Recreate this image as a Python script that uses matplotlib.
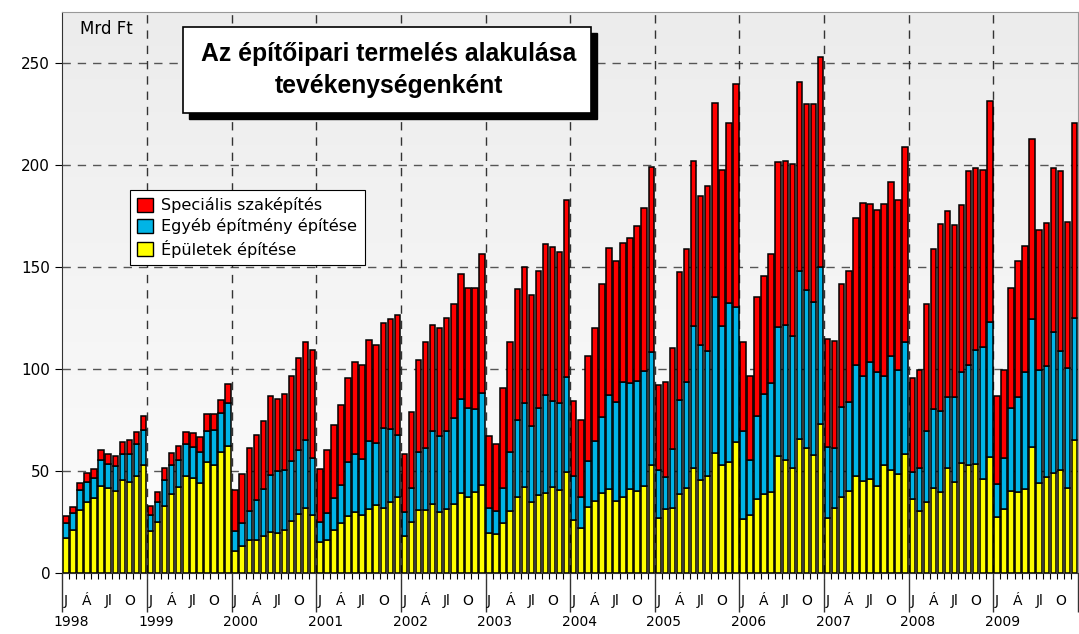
import numpy as np
import matplotlib.pyplot as plt
import matplotlib.transforms as mtransforms
from matplotlib.patches import Rectangle, Patch

# Havi adatok, 1998 január - 2009 december (Mrd Ft)
years = ['1998', '1999', '2000', '2001', '2002', '2003',
         '2004', '2005', '2006', '2007', '2008', '2009']
month_labels = ['J', 'Á', 'Jl', 'O']
month_label_idx = [0, 3, 6, 9]

# Épületek építése
epuletek = [
    17.2, 21.3, 30.7, 34.8, 36.6, 42.6, 41.6, 40.2, 45.7, 44.8, 47.4, 53.0,
    20.7, 25.2, 32.6, 38.7, 42.3, 47.4, 46.4, 43.9, 54.6, 53.0, 59.2, 62.3,
    10.8, 13.4, 16.2, 16.2, 17.9, 20.2, 19.5, 21.0, 25.7, 28.9, 31.8, 28.5,
    15.1, 16.2, 21.1, 24.4, 27.7, 29.7, 28.2, 31.5, 33.3, 32.1, 34.8, 37.2,
    17.9, 25.2, 31.0, 31.0, 33.9, 29.8, 31.5, 33.9, 39.2, 37.5, 39.5, 43.3,
    19.5, 19.2, 24.4, 30.2, 37.5, 42.0, 34.6, 38.4, 39.2, 42.0, 40.8, 49.3,
    25.8, 22.2, 32.5, 35.5, 39.2, 41.2, 35.5, 37.5, 41.3, 40.0, 42.5, 53.0,
    27.1, 31.5, 31.9, 38.6, 41.5, 51.7, 45.4, 47.6, 59.0, 52.7, 54.4, 64.1,
    26.3, 28.5, 36.4, 38.6, 39.8, 57.3, 55.6, 51.7, 65.8, 61.5, 57.8, 72.9,
    26.8, 31.9, 37.3, 40.3, 47.5, 45.1, 46.3, 42.5, 52.7, 50.5, 48.5, 58.5,
    36.1, 30.2, 34.7, 41.5, 39.5, 51.4, 44.6, 53.9, 53.1, 53.4, 45.9, 56.9,
    27.6, 31.5, 40.3, 39.5, 41.2, 62.0, 44.2, 47.1, 48.8, 50.5, 41.5, 65.3,
]

# Egyéb építmény építése
egyeb = [
    7.4, 7.9, 9.8, 9.8, 10.1, 12.6, 11.7, 12.3, 12.8, 13.7, 15.7, 17.0,
    7.5, 9.6, 13.1, 14.3, 12.9, 15.6, 15.4, 15.4, 14.9, 17.0, 19.0, 20.8,
    9.7, 11.0, 14.3, 19.4, 23.2, 27.7, 30.7, 29.7, 29.4, 31.6, 33.4, 27.9,
    9.7, 13.1, 15.6, 18.6, 26.9, 28.7, 27.7, 33.1, 30.5, 38.9, 35.9, 30.5,
    11.9, 16.6, 28.2, 30.3, 35.6, 37.2, 38.0, 42.0, 46.2, 43.2, 40.7, 45.1,
    12.6, 11.0, 17.2, 29.0, 37.4, 41.4, 37.7, 42.3, 48.3, 42.3, 42.3, 46.9,
    21.7, 15.0, 22.2, 29.0, 37.5, 46.3, 48.3, 56.2, 51.7, 54.2, 56.7, 55.3,
    23.4, 15.6, 29.1, 46.3, 51.9, 69.5, 66.6, 61.4, 76.3, 68.5, 78.0, 66.1,
    43.2, 26.8, 40.4, 49.2, 53.1, 63.2, 66.1, 64.6, 82.2, 77.1, 74.9, 77.1,
    35.1, 29.3, 44.1, 43.3, 54.7, 51.5, 57.3, 55.8, 43.9, 55.9, 51.2, 54.7,
    13.6, 21.2, 35.0, 39.0, 39.8, 35.0, 41.5, 44.4, 49.1, 55.9, 65.1, 66.0,
    16.1, 24.9, 40.7, 46.9, 57.1, 62.6, 55.1, 54.6, 69.5, 58.1, 59.0, 59.8,
]

# Speciális szaképítés
specialis = [
    3.3, 3.3, 3.6, 4.4, 4.4, 5.0, 4.9, 5.0, 5.8, 6.7, 6.2, 6.9,
    4.4, 4.7, 5.6, 5.9, 6.9, 6.0, 6.7, 7.6, 8.5, 7.7, 6.7, 9.5,
    20.0, 24.3, 30.8, 31.9, 33.3, 38.7, 35.0, 37.2, 41.5, 44.7, 48.1, 52.9,
    26.2, 31.2, 35.8, 39.5, 41.1, 45.0, 46.1, 49.5, 47.8, 51.6, 53.6, 58.7,
    28.7, 37.1, 45.1, 52.1, 52.0, 53.3, 55.3, 56.2, 61.3, 59.1, 59.6, 68.2,
    34.9, 33.2, 49.2, 53.8, 64.3, 66.8, 64.1, 67.2, 74.0, 75.7, 74.4, 86.4,
    37.0, 37.8, 51.5, 55.8, 64.8, 71.8, 69.2, 68.3, 71.0, 76.1, 79.5, 90.9,
    41.5, 46.6, 49.3, 62.7, 65.2, 80.7, 72.9, 80.5, 94.9, 76.3, 88.4, 109.6,
    43.7, 41.5, 58.5, 58.0, 63.5, 80.9, 80.5, 84.2, 92.7, 91.2, 97.1, 102.7,
    53.0, 52.5, 60.3, 64.4, 71.7, 84.8, 77.1, 79.8, 84.4, 85.1, 83.0, 95.8,
    46.1, 48.3, 62.2, 78.1, 91.9, 91.2, 84.7, 82.2, 94.9, 89.0, 86.6, 108.5,
    42.9, 43.3, 58.5, 66.3, 61.9, 88.3, 69.0, 69.7, 80.2, 88.5, 71.7, 95.4,
]

W, H = 1079, 634
fig = plt.figure(figsize=(W / 100, H / 100), dpi=100)
plt.rcParams['font.family'] = ['DejaVu Sans']

ax = fig.add_axes([62 / W, 1 - 573 / H, 1016 / W, 561 / H])

x = np.arange(len(epuletek))
ep = np.array(epuletek)
eg = np.array(egyeb)
sp = np.array(specialis)

# háttér színátmenet
grad = np.linspace(0, 1, 256).reshape(-1, 1)
ax.imshow(grad, cmap=plt.matplotlib.colors.LinearSegmentedColormap.from_list(
    'bg', ['#fdfdfd', '#ececec']), aspect='auto', origin='lower',
    extent=(-0.55, 143.5, 0, 275), zorder=0)

# rácsvonalak
for v in [50, 100, 150, 200, 250]:
    ax.axhline(v, color='#555555', lw=1, ls=(0, (6, 5)), zorder=1)
for k in range(1, 12):
    ax.axvline(12 * k - 0.5, color='#333333', lw=1, ls=(0, (6, 5)), zorder=1)

bw = 0.78
ax.bar(x, ep, width=bw, color='#ffff00', edgecolor='black', lw=1.1, zorder=2)
ax.bar(x, eg, width=bw, bottom=ep, color='#00b4e6', edgecolor='black', lw=1.1, zorder=2)
ax.bar(x, sp, width=bw, bottom=ep + eg, color='#ff0000', edgecolor='black', lw=1.1, zorder=2)

ax.set_xlim(-0.55, 143.5)
ax.set_ylim(0, 275)
ax.set_yticks([0, 50, 100, 150, 200, 250])
ax.tick_params(axis='y', labelsize=11, length=5, direction='out')

ax.set_xticks([12 * k - 0.5 for k in range(13)])
ax.set_xticklabels([])
ax.set_xticks(np.arange(144) - 0.5, minor=True)
ax.tick_params(axis='x', which='major', length=28, width=1, color='#333333')
ax.tick_params(axis='x', which='minor', length=4, width=0.8)

for s in ['top', 'right']:
    ax.spines[s].set_color('#999999')
ax.spines['left'].set_color('#333333')
ax.spines['bottom'].set_color('#333333')

# hónap és év feliratok
trans = mtransforms.blended_transform_factory(ax.transData, fig.transFigure)
for k, yr in enumerate(years):
    for lab, m in zip(month_labels, month_label_idx):
        ax.text(12 * k + m, 1 - 601 / H, lab, transform=trans, ha='center',
                va='center', fontsize=10, clip_on=False)
    ax.text(12 * k + 0.8, 1 - 622 / H, yr, transform=trans, ha='center',
            va='center', fontsize=10, clip_on=False)

fig.text(80 / W, 1 - 29 / H, 'Mrd Ft', fontsize=12, va='center', ha='left')

# cím doboz árnyékkal
fig.patches.append(Rectangle((189 / W, 1 - 119 / H), 408 / W, 86 / H,
                             transform=fig.transFigure, facecolor='black',
                             edgecolor='black', zorder=5))
fig.patches.append(Rectangle((183 / W, 1 - 113 / H), 408 / W, 86 / H,
                             transform=fig.transFigure, facecolor='white',
                             edgecolor='black', lw=1.2, zorder=6))
fig.text(389 / W, 1 - 70 / H, 'Az építőipari termelés alakulása\ntevékenységenként',
         family=['Liberation Sans', 'DejaVu Sans'], fontweight='bold',
         fontsize=17.8, ha='center', va='center', linespacing=1.45, zorder=7)

handles = [Patch(facecolor='#ff0000', edgecolor='black'),
           Patch(facecolor='#00b4e6', edgecolor='black'),
           Patch(facecolor='#ffff00', edgecolor='black')]
labels = ['Speciális szaképítés', 'Egyéb építmény építése', 'Épületek építése']
leg = ax.legend(handles, labels, loc='upper left',
                bbox_to_anchor=(130 / W, 1 - 190 / H), bbox_transform=fig.transFigure,
                fontsize=11.6, frameon=True, fancybox=False, framealpha=1,
                edgecolor='black', handlelength=1.0, handleheight=1.0,
                handletextpad=0.5, labelspacing=0.32, borderpad=0.45,
                borderaxespad=0)
leg.get_frame().set_linewidth(0.8)
leg.set_zorder(10)

plt.savefig('out.png', dpi=100)
